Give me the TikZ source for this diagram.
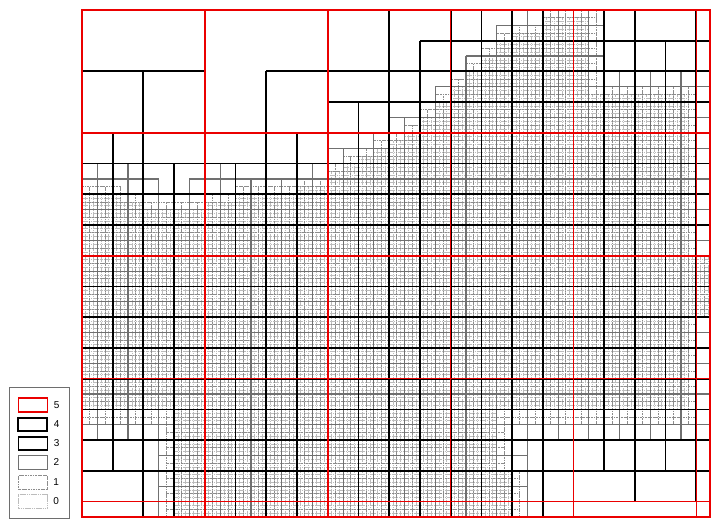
\documentclass[tikz,border=0pt]{standalone}
\usepackage{fontspec}
\setmainfont{Liberation Sans}
\definecolor{lvred}{RGB}{235,0,0}
\definecolor{lvgray}{RGB}{112,112,112}
\definecolor{lvmid}{RGB}{140,140,140}
\definecolor{lvpale}{RGB}{188,188,188}
\definecolor{legframe}{RGB}{110,110,110}
\tikzset{
  lvfive/.style={draw=lvred, line width=1.6pt},
  lvfour/.style={draw=black, line width=1.9pt},
  lvthree/.style={draw=black, line width=1.6pt},
  lvtwo/.style={draw=lvgray, line width=1.2pt},
  lvone/.style={draw=lvmid, line width=0.8pt, dash pattern=on 2.4pt off 0.8pt on 0.8pt off 0.8pt},
  lvzero/.style={draw=lvpale, line width=0.8pt, dash pattern=on 1.6pt off 0.6pt},
  legbox/.style={minimum width=29pt, minimum height=13.5pt, inner sep=0pt, fill=white},
  leglabel/.style={font=\fontsize{10}{12}\selectfont, inner sep=0pt, anchor=west, xshift=5.5pt},
}
\newcommand\lvrects[3]{\foreach \xa/\ya/\xb/\yb in {#3}{\draw[#1,step=#2] (\xa-0.01,-\yb-0.01) grid (\xb+0.01,-\ya+0.01);}}
\begin{document}
\begin{tikzpicture}[x=1pt,y=1pt]
\useasboundingbox (0,0) rectangle (720,-524);
\fill[white] (0,0) rectangle (720,-524);
\begin{scope}[shift={(82pt,-10pt)}, x=3.84pt, y=3.84pt]
  \begin{scope}
    \clip (0,0) rectangle (163.5,-132);
    % level 0
    \lvrects{lvzero}{1}{0/48/10/104, 10/50/16/104, 16/52/32/104, 32/50/40/104, 40/48/56/104, 56/46/64/104, 64/42/68/104, 68/40/72/104, 72/38/76/104, 76/36/80/104, 80/34/84/104, 84/32/88/104, 88/28/92/104, 92/24/96/104, 96/20/100/104, 100/16/104/104, 104/12/108/104, 108/8/112/104, 112/6/120/104, 120/2/132/104, 132/22/158/104, 24/104/108/132, 108/120/112/132, 158/64/163.5/80}
    % level 1
    \lvrects{lvone}{2}{0/46/10/108, 10/48/16/108, 16/50/32/108, 32/48/40/108, 40/46/56/108, 56/44/64/108, 64/40/68/108, 68/38/72/108, 72/36/76/108, 76/34/80/108, 80/32/84/108, 84/30/88/108, 88/26/92/108, 92/22/96/108, 96/18/100/108, 100/14/104/108, 104/10/108/108, 108/6/112/108, 112/4/120/108, 120/0/134/108, 134/20/160/108, 22/108/110/132, 110/120/114/132, 160/64/163.5/80}
    % level 2
    \lvrects{lvtwo}{4}{0/40/16/112, 16/44/20/112, 20/48/28/132, 28/44/32/132, 32/40/40/132, 40/44/56/132, 56/40/64/132, 64/36/76/132, 76/32/80/132, 80/28/88/132, 88/24/92/132, 92/20/96/132, 96/16/100/132, 100/12/104/132, 104/8/108/132, 108/4/112/132, 112/0/116/132, 116/0/136/112, 136/16/160/112, 160/16/163.5/112}
    % level 3
    \lvrects{lvthree}{8}{0/32/16/120, 16/40/48/132, 48/32/64/132, 64/24/88/132, 88/8/96/132, 96/0/128/132, 128/0/144/120, 144/8/160/120, 160/0/163.5/128}
    % level 4
    \lvrects{lvfour}{16}{64/0/163.5/16, 0/16/32/32, 48/16/163.5/32, 0/32/163.5/128, 16/128/128/132}
    % level 5
    \draw[lvfive, step=32] (-0.01,-132) grid (163.5,0.01);
  \end{scope}
  \draw[lvfive] (0,0) rectangle (163.5,-132);
\end{scope}
% legend
\node[draw=legframe, line width=0.8pt, fill=white, minimum width=60pt, minimum height=131pt, inner sep=0pt] (legend) at (39,-452.5) {};
\node[legbox, lvfive]  (lg5) at (32.8,-405) {};
\node[legbox, lvfour]  (lg4) at (32.8,-424.5) {};
\node[legbox, lvthree] (lg3) at (32.8,-443.5) {};
\node[legbox, lvtwo]   (lg2) at (32.8,-462.5) {};
\node[legbox, lvone]   (lg1) at (32.8,-482.5) {};
\node[legbox, lvzero]  (lg0) at (32.8,-501.5) {};
\node[leglabel] (lt5) at (lg5.east) {5};
\node[leglabel] (lt4) at (lg4.east) {4};
\node[leglabel] (lt3) at (lg3.east) {3};
\node[leglabel] (lt2) at (lg2.east) {2};
\node[leglabel] (lt1) at (lg1.east) {1};
\node[leglabel] (lt0) at (lg0.east) {0};
\end{tikzpicture}
\end{document}
